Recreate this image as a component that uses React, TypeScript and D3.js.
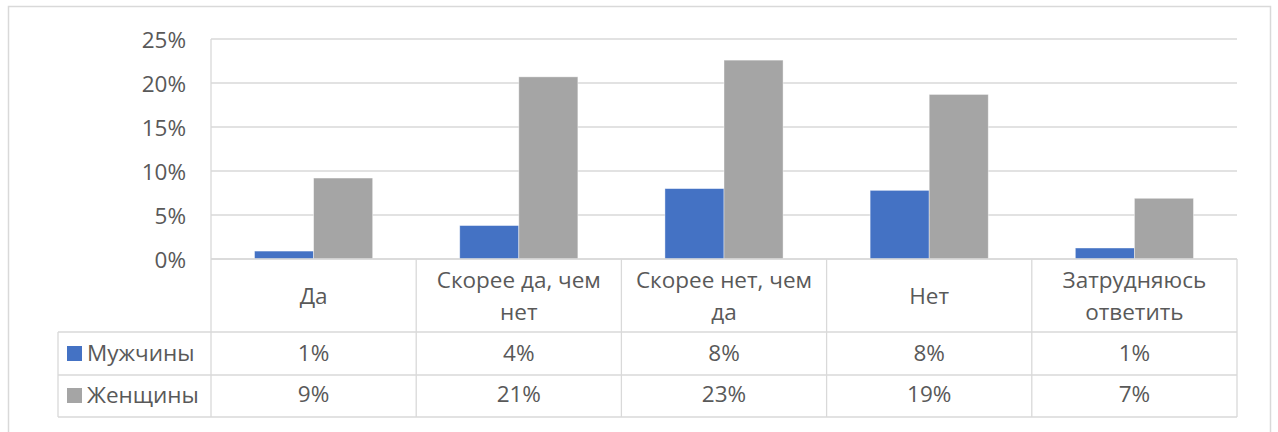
import React from "react";
import * as d3 from "d3";

const categories: string[][] = [
  ["Да"],
  ["Скорее да, чем", "нет"],
  ["Скорее нет, чем", "да"],
  ["Нет"],
  ["Затрудняюсь", "ответить"],
];
const seriesNames = ["Мужчины", "Женщины"];
const men = [0.009, 0.038, 0.080, 0.078, 0.0125];
const women = [0.092, 0.207, 0.226, 0.187, 0.069];
const menLabels = ["1%", "4%", "8%", "8%", "1%"];
const womenLabels = ["9%", "21%", "23%", "19%", "7%"];
const yTicks = [0, 0.05, 0.1, 0.15, 0.2, 0.25];
const colors = ["#4472C4", "#A5A5A5"];

const W = 1278;
const H = 432;
const plotL = 211;
const plotR = 1237;
const plotT = 39;
const plotB = 259;
const row1 = 332;
const row2 = 375;
const row3 = 417;
const legendL = 58;
const font = "'Open Sans', sans-serif";
const fs = 22.5;
const txt = "#595959";
const grid = "#D9D9D9";

export default function App() {
  const y = d3.scaleLinear().domain([0, 0.25]).range([plotB, plotT]);
  const x0 = d3
    .scaleBand<number>()
    .domain(d3.range(categories.length))
    .range([plotL, plotR])
    .paddingInner(0)
    .paddingOuter(0);
  const x1 = d3
    .scaleBand<number>()
    .domain([0, 1])
    .range([0, x0.bandwidth()])
    .paddingOuter(0.737)
    .paddingInner(0);
  const series = [men, women];
  const labels = [menLabels, womenLabels];
  const fmt = d3.format(".0%");

  return (
    <svg
      width={W}
      height={H}
      style={{ position: "absolute", left: 0, top: 0, background: "#fff" }}
      fontFamily={font}
    >
      <rect x={8.5} y={6.5} width={1262} height={430} fill="#fff" stroke={grid} strokeWidth={1.5} />
      {yTicks.map((t) => (
        <g key={t}>
          <line x1={plotL} x2={plotR} y1={y(t)} y2={y(t)} stroke={grid} strokeWidth={1.3} />
          <text x={186} y={y(t) + 8.5} textAnchor="end" fontSize={fs} fill={txt}>
            {fmt(t)}
          </text>
        </g>
      ))}
      <line x1={plotL} x2={plotL} y1={plotT} y2={row3} stroke={grid} strokeWidth={1.3} />
      {series.map((s, si) =>
        s.map((v, i) => (
          <rect
            key={`${si}-${i}`}
            x={(x0(i) as number) + (x1(si) as number)}
            y={y(v)}
            width={x1.bandwidth()}
            height={plotB - y(v)}
            fill={colors[si]}
            stroke="#fff"
            strokeOpacity={0.5}
            strokeWidth={0.8}
          />
        ))
      )}
      {/* table lines */}
      <line x1={plotL} x2={plotR} y1={plotB} y2={plotB} stroke={grid} strokeWidth={1.3} />
      {[row1, row2, row3].map((r) => (
        <line key={r} x1={legendL} x2={plotR} y1={r} y2={r} stroke={grid} strokeWidth={1.3} />
      ))}
      <line x1={legendL} x2={legendL} y1={row1} y2={row3} stroke={grid} strokeWidth={1.3} />
      {d3.range(1, categories.length + 1).map((i) => {
        const xx = i < categories.length ? (x0(i) as number) : plotR;
        return <line key={i} x1={xx} x2={xx} y1={plotB} y2={row3} stroke={grid} strokeWidth={1.3} />;
      })}
      {categories.map((c, i) => {
        const cx = (x0(i) as number) + x0.bandwidth() / 2;
        return (
          <g key={i}>
            {c.length === 1 ? (
              <text x={cx} y={304} textAnchor="middle" fontSize={fs} fill={txt}>
                {c[0]}
              </text>
            ) : (
              c.map((line, li) => (
                <text key={li} x={cx} y={288 + li * 32} textAnchor="middle" fontSize={fs} fill={txt}>
                  {line}
                </text>
              ))
            )}
            <text x={cx} y={361} textAnchor="middle" fontSize={fs} fill={txt}>
              {labels[0][i]}
            </text>
            <text x={cx} y={402} textAnchor="middle" fontSize={fs} fill={txt}>
              {labels[1][i]}
            </text>
          </g>
        );
      })}
      {seriesNames.map((n, si) => {
        const base = si === 0 ? 361 : 403;
        return (
          <g key={n}>
            <rect x={67} y={base - 15} width={15} height={15} fill={colors[si]} />
            <text x={87} y={base} fontSize={fs} fill={txt}>
              {n}
            </text>
          </g>
        );
      })}
    </svg>
  );
}
